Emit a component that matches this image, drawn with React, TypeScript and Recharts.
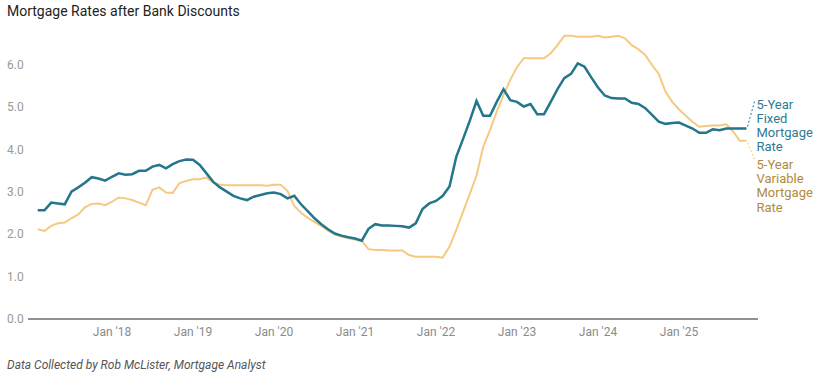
import { LineChart, Line, XAxis, YAxis } from 'recharts';

// month index: 0 = Jan 2017, series run Feb 2017 .. Nov 2025
const FIRST_MONTH = 1;

const fixedRate = [
  2.57, 2.57, 2.75, 2.73, 2.71, 3.01, 3.11, 3.22, 3.35, 3.32, 3.27,
  3.36, 3.44, 3.41, 3.42, 3.50, 3.50, 3.60, 3.64, 3.56, 3.66, 3.73, 3.77,
  3.76, 3.64, 3.44, 3.24, 3.11, 3.01, 2.91, 2.85, 2.81, 2.89, 2.93, 2.97,
  2.99, 2.95, 2.85, 2.91, 2.71, 2.55, 2.38, 2.24, 2.12, 2.02, 1.97, 1.93,
  1.90, 1.85, 2.13, 2.24, 2.21, 2.21, 2.20, 2.19, 2.16, 2.26, 2.60, 2.73,
  2.79, 2.91, 3.13, 3.83, 4.25, 4.68, 5.15, 4.80, 4.80, 5.13, 5.43, 5.17,
  5.13, 5.02, 5.08, 4.84, 4.84, 5.13, 5.43, 5.69, 5.79, 6.04, 5.96, 5.71,
  5.47, 5.28, 5.22, 5.21, 5.21, 5.11, 5.08, 4.98, 4.82, 4.66, 4.61, 4.63,
  4.64, 4.57, 4.50, 4.40, 4.40, 4.48, 4.46, 4.50, 4.50, 4.50, 4.50,
];

const variableRate = [
  2.12, 2.08, 2.20, 2.26, 2.28, 2.38, 2.47, 2.64, 2.72, 2.73, 2.69,
  2.77, 2.87, 2.85, 2.81, 2.75, 2.69, 3.05, 3.11, 2.99, 2.98, 3.21, 3.26,
  3.30, 3.30, 3.34, 3.23, 3.17, 3.16, 3.16, 3.16, 3.16, 3.16, 3.16, 3.15,
  3.17, 3.17, 3.03, 2.67, 2.51, 2.39, 2.29, 2.20, 2.09, 2.00, 1.94, 1.91,
  1.88, 1.85, 1.65, 1.63, 1.63, 1.62, 1.62, 1.62, 1.51, 1.47, 1.47, 1.47,
  1.47, 1.45, 1.71, 2.10, 2.53, 2.95, 3.39, 4.07, 4.46, 4.90, 5.29, 5.65,
  5.95, 6.16, 6.16, 6.16, 6.16, 6.28, 6.47, 6.69, 6.69, 6.67, 6.67, 6.67,
  6.69, 6.65, 6.67, 6.69, 6.63, 6.47, 6.37, 6.24, 6.00, 5.79, 5.37, 5.13,
  4.95, 4.80, 4.66, 4.54, 4.56, 4.57, 4.57, 4.60, 4.43, 4.21, 4.21,
];

const xTicks = [12, 24, 36, 48, 60, 72, 84, 96];
const xTickLabels = ["Jan '18", "Jan '19", "Jan '20", "Jan '21", "Jan '22", "Jan '23", "Jan '24", "Jan '25"];
const yTicks = [0, 1, 2, 3, 4, 5, 6];

const fixedLabel = ['5-Year', 'Fixed', 'Mortgage', 'Rate'];
const variableLabel = ['5-Year', 'Variable', 'Mortgage', 'Rate'];

const TEAL = '#23768b';
const GOLD = '#f5ca80';
const FONT = 'Roboto, "Noto Sans", sans-serif';

const data = fixedRate.map((v, i) => ({
  t: FIRST_MONTH + i,
  fixed: v,
  variable: variableRate[i],
}));
const last = data.length - 1;

function endLabel(lines: string[], color: string, lineColor: string, up: boolean) {
  return (props: any) => {
    if (props.index !== last) return null;
    const x = Number(props.x);
    const y = Number(props.y);
    const ty = up ? y - 25 : y + 23;
    return (
      <g>
        <line
          x1={x + 1} y1={up ? y - 2 : y + 2}
          x2={x + 8} y2={up ? ty - 2 : ty - 4}
          stroke={lineColor} strokeWidth={1} strokeDasharray="2 2"
        />
        <text x={x + 10} y={ty} fill={color} fontSize={13} fontFamily={FONT} dominantBaseline="central">
          {lines.map((l, i) => (
            <tspan key={i} x={x + 10} dy={i === 0 ? 0 : 14.3}>{l}</tspan>
          ))}
        </text>
      </g>
    );
  };
}

export default function App() {
  return (
    <div style={{ position: 'absolute', left: 0, top: 0, width: 826, height: 377, background: '#fff', fontFamily: FONT }}>
      <div style={{ position: 'absolute', left: 7, top: 3, fontSize: 14, color: '#222' }}>
        Mortgage Rates after Bank Discounts
      </div>
      <LineChart
        width={826}
        height={377}
        data={data}
        margin={{ top: 22.7, right: 68, bottom: 28, left: 0 }}
      >
        <XAxis
          dataKey="t"
          type="number"
          domain={[-0.44, 107.7]}
          ticks={xTicks}
          height={30}
          tickFormatter={(v: number) => xTickLabels[xTicks.indexOf(v)] ?? ''}
          tickLine={false}
          axisLine={{ stroke: '#222', strokeWidth: 1 }}
          tick={{ fill: '#8a8a8a', fontSize: 12, fontFamily: FONT }}
          allowDataOverflow
        />
        <YAxis
          type="number"
          domain={[0, 7]}
          ticks={yTicks}
          width={28}
          axisLine={false}
          tickLine={false}
          tick={(p: any) => (
            <text x={7} y={p.y} dy={4} textAnchor="start" fill="#999" fontSize={12} fontFamily={FONT}>
              {Number(p.payload.value).toFixed(1)}
            </text>
          )}
        />
        <Line
          dataKey="variable"
          stroke={GOLD}
          strokeWidth={2}
          dot={false}
          isAnimationActive={false}
          label={endLabel(variableLabel, '#b08a3e', GOLD, false)}
        />
        <Line
          dataKey="fixed"
          stroke={TEAL}
          strokeWidth={2.5}
          dot={false}
          isAnimationActive={false}
          label={endLabel(fixedLabel, '#2f7a92', TEAL, true)}
        />
      </LineChart>
      <div style={{ position: 'absolute', left: 7, top: 358, fontSize: 12, fontStyle: 'italic', color: '#555' }}>
        Data Collected by Rob McLister, Mortgage Analyst
      </div>
    </div>
  );
}
